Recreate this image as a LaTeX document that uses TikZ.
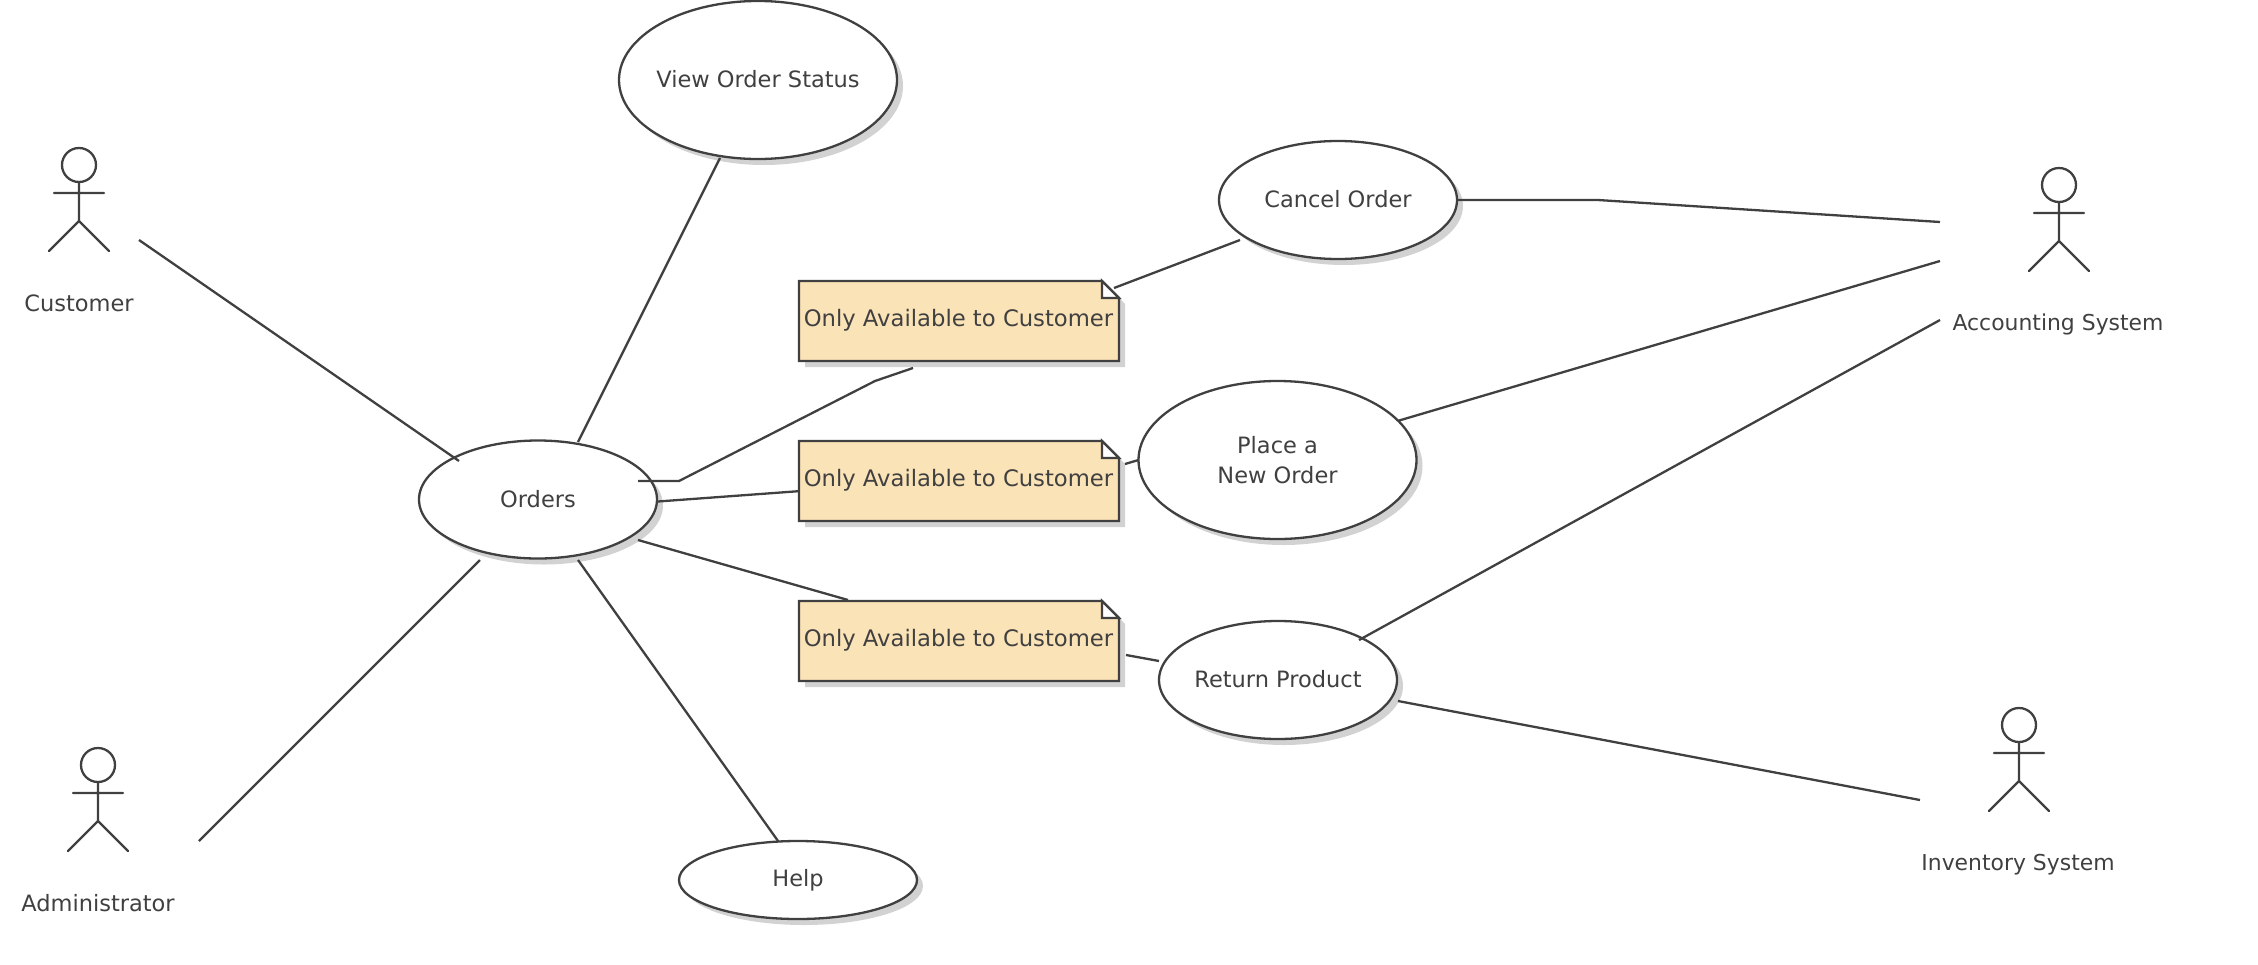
\documentclass[tikz,border=0pt]{standalone}
\usepackage{fontspec}
\setmainfont{DejaVu Sans}
\usetikzlibrary{shadows,shapes.geometric}
\definecolor{ink}{HTML}{404040}
\definecolor{notefill}{HTML}{FBE3B8}
\definecolor{shade}{HTML}{D2D2D2}
\tikzset{
  x=1pt,y=-1pt,
  every node/.style={font=\fontsize{22.5}{30}\selectfont,text=ink,inner sep=0pt,outer sep=0pt},
  usecase/.style={ellipse,draw=ink,line width=2.3pt,fill=white,align=center,inner xsep=-40pt,
    drop shadow={shadow xshift=6pt,shadow yshift=-6pt,fill=shade,opacity=1}},
  wire/.style={draw=ink,line width=2.3pt},
  notebody/.style={draw=ink,line width=2.3pt,fill=notefill,line join=miter,
    drop shadow={shadow xshift=6pt,shadow yshift=-6pt,fill=shade,opacity=1}},
  foldpart/.style={draw=ink,line width=2.3pt,fill=white,line join=miter},
  actorline/.style={draw=ink,line width=2.3pt,line cap=round,line join=round},
  notetext/.style={minimum width=320pt,minimum height=80pt,font=\fontsize{22.7}{30}\selectfont},
  actorname/.style={font=\fontsize{21.9}{30}\selectfont},
  raised/.style={text depth=3pt},
  actorfig/.pic={
    \path[actorline] (0,0) circle[radius=17pt];
    \path[actorline] (0,17) -- (0,56) (-25,28) -- (25,28) (-30,86) -- (0,56) -- (30,86);
  },
}
\begin{document}
\begin{tikzpicture}
\useasboundingbox (0,0) rectangle (2258,964);

% use cases
\node[usecase,raised,minimum width=278pt,minimum height=158pt] (view) at (758,80) {View Order Status};
\node[usecase,raised,minimum width=238pt,minimum height=118pt] (cancel) at (1338,200) {Cancel Order};
\node[usecase,minimum width=238pt,minimum height=118pt] (orders) at (538,499.5) {Orders};
\node[usecase,minimum width=278pt,minimum height=158pt] (place) at (1277.5,460) {Place a\\New Order};
\node[usecase,raised,minimum width=238pt,minimum height=118pt] (return) at (1278,680) {Return Product};
\node[usecase,minimum width=238pt,minimum height=78pt] (help) at (798,880) {Help};

% notes
\path[notebody] (799,281) -- (1102,281) -- (1119,298) -- (1119,361) -- (799,361) -- cycle;
\path[foldpart] (1102,281) -- (1119,298) -- (1102,298) -- cycle;
\node[notetext] (note1) at (958.5,320) {Only Available to Customer};
\path[notebody] (799,441) -- (1102,441) -- (1119,458) -- (1119,521) -- (799,521) -- cycle;
\path[foldpart] (1102,441) -- (1119,458) -- (1102,458) -- cycle;
\node[notetext] (note2) at (958.5,480) {Only Available to Customer};
\path[notebody] (799,601) -- (1102,601) -- (1119,618) -- (1119,681) -- (799,681) -- cycle;
\path[foldpart] (1102,601) -- (1119,618) -- (1102,618) -- cycle;
\node[notetext] (note3) at (958.5,640) {Only Available to Customer};

% actors
\pic (customerfig) at (79,165) {actorfig};
\node (customer) at (79,303) {Customer};
\pic (adminfig) at (98,765) {actorfig};
\node (admin) at (98,903) {Administrator};
\pic (accountingfig) at (2059,185) {actorfig};
\node[actorname] (accounting) at (2058,324) {Accounting System};
\pic (inventoryfig) at (2019,725) {actorfig};
\node[actorname] (inventory) at (2018,865) {Inventory System};

% connector free ends
\coordinate (customerEnd) at (139,240);
\coordinate (ordersCustomer) at (459,461);
\coordinate (adminEnd) at (199,841);
\coordinate (ordersAdmin) at (480,560);
\coordinate (ordersHelp) at (578,560);
\coordinate (ordersNoteA) at (638,481);
\coordinate (bendA) at (679,481);
\coordinate (bendB) at (875,381);
\coordinate (noteAbelow) at (913,368);
\coordinate (noteAfold) at (1114,288);
\coordinate (cancelNote) at (1240,240);
\coordinate (noteBright) at (1125,464);
\coordinate (ordersNoteC) at (638,540);
\coordinate (noteCtop) at (848,600);
\coordinate (noteCright) at (1126,655);
\coordinate (returnNote) at (1159,661);
\coordinate (bendC) at (1598,200);
\coordinate (accountingA) at (1940,222);
\coordinate (accountingB) at (1940,261);
\coordinate (accountingC) at (1940,320);
\coordinate (returnInventory) at (1398,701);
\coordinate (inventoryEnd) at (1920,800);
\coordinate (returnAccounting) at (1359,640);
\coordinate (viewEnd) at (720,158);
\coordinate (ordersView) at (578,442);

% connectors
\path[wire] (customerEnd) -- (ordersCustomer);
\path[wire] (viewEnd) -- (ordersView);
\path[wire] (adminEnd) -- (ordersAdmin);
\path[wire] (ordersHelp) -- (help.117);
\path[wire] (ordersNoteA) -- (bendA) -- (bendB) -- (noteAbelow);
\path[wire] (noteAfold) -- (cancelNote);
\path[wire] (orders.-1) -- (note2.184);
\path[wire] (noteBright) -- (place.west);
\path[wire] (ordersNoteC) -- (noteCtop);
\path[wire] (noteCright) -- (returnNote);
\path[wire] (cancel.east) -- (bendC) -- (accountingA);
\path[wire] (place.18) -- (accountingB);
\path[wire] (returnAccounting) -- (accountingC);
\path[wire] (returnInventory) -- (inventoryEnd);
\end{tikzpicture}
\end{document}
